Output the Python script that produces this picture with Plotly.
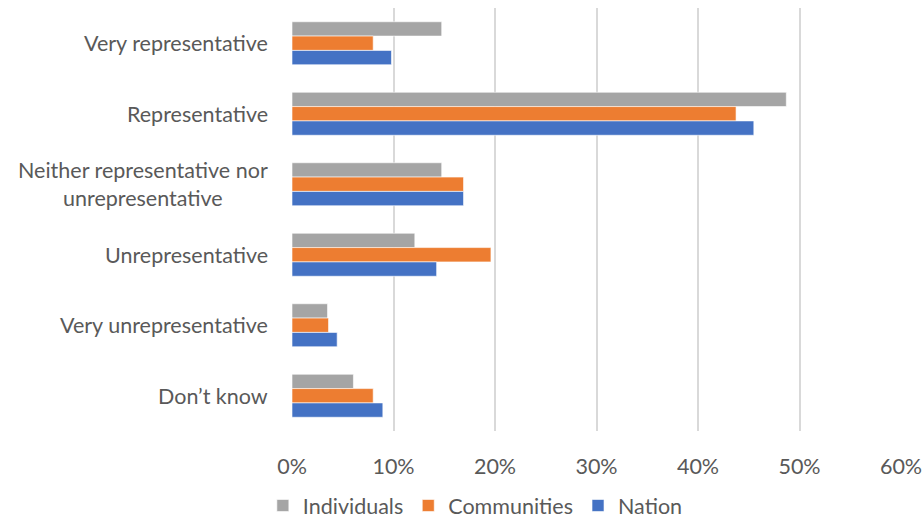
import plotly.graph_objects as go

categories = ["Very representative", "Representative",
              "Neither representative nor<br>unrepresentative",
              "Unrepresentative", "Very unrepresentative", "Don\u2019t know"]
individuals = [14.75, 48.7, 14.75, 12.1, 3.5, 6.05]
communities = [8.0, 43.75, 16.9, 19.6, 3.6, 8.0]
nation = [9.8, 45.5, 16.9, 14.25, 4.45, 8.95]
x_ticks = [0, 10, 20, 30, 40, 50, 60]
x_tick_labels = ["0%", "10%", "20%", "30%", "40%", "50%", "60%"]

FONT = "Lato"
TXT = "#595959"
FS = 21.5

fig = go.Figure()
for name, vals, col in [("Individuals", individuals, "#A5A5A5"),
                        ("Communities", communities, "#ED7D31"),
                        ("Nation", nation, "#4472C4")]:
    fig.add_trace(go.Bar(y=categories, x=vals, name=name, orientation="h",
                         marker=dict(color=col, line=dict(color="#FFFFFF", width=0.6))))

for c in categories:
    fig.add_annotation(x=0, xref="paper", y=c, yref="y", text=c, showarrow=False,
                       xanchor="right", align="center", xshift=-22,
                       font=dict(family=FONT, size=FS, color=TXT))

fig.update_layout(
    width=923, height=526,
    margin=dict(l=292, r=22, t=8, b=95, autoexpand=False),
    paper_bgcolor="white", plot_bgcolor="white",
    barmode="group", bargap=0.39, bargroupgap=0,
    font=dict(family=FONT, size=FS, color=TXT),
    legend=dict(orientation="h", xref="container", yref="container",
                x=0.515, xanchor="center", y=-0.01, yanchor="bottom",
                font=dict(family=FONT, size=FS, color=TXT), traceorder="normal",
                itemwidth=30),
    showlegend=True,
)
fig.update_xaxes(range=[0, 60], tickvals=x_ticks, ticktext=x_tick_labels,
                 showgrid=True, gridcolor="#D9D9D9", gridwidth=1.5,
                 zeroline=False, showline=False, ticks="", ticklabelstandoff=20,
                 tickfont=dict(family=FONT, size=FS, color=TXT))
fig.update_yaxes(autorange="reversed", showticklabels=False, showgrid=False,
                 zeroline=False, showline=False, ticks="")

fig.write_html("out.html")
